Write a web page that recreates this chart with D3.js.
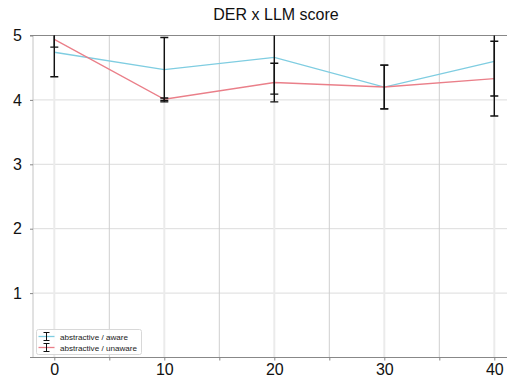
<!DOCTYPE html>
<html><head><meta charset="utf-8">
<script src="https://cdn.jsdelivr.net/npm/d3@7"></script>
<style>body{margin:0;background:#fff}svg{display:block}</style>
</head><body>
<svg id="c" width="507" height="379"></svg>
<script>
const steps = [0, 10, 20, 30, 40];
const awareMean = [4.74, 4.47, 4.66, 4.20, 4.60];
const awareErr  = [0.38, 0.50, 0.57, 0.34, 0.54];
const unawareMean = [4.94, 4.01, 4.27, 4.20, 4.33];
const unawareErr  = [0.12, 0.02, 0.30, 0.34, 0.58];
const seriesNames = ["abstractive / aware", "abstractive / unaware"];
const seriesColors = ["#7fcde1", "#ea7f89"];
const yTicks = [1, 2, 3, 4, 5];
const xTicks = [0, 10, 20, 30, 40];
const xMinor = [5, 15, 25, 35];

const svg = d3.select("#c");
const font = "'Liberation Sans', Arial, Helvetica, sans-serif";
const L = 33, T = 35.5, B = 357.5, R = 507;
const x = d3.scaleLinear().domain([0, 40]).range([54.3, 494.3]);
const y = d3.scaleLinear().domain([0, 5]).range([B, T]);

svg.append("defs").append("clipPath").attr("id", "clip")
  .append("rect").attr("x", L).attr("y", T).attr("width", R - L).attr("height", B - T);

// title
svg.append("text").attr("x", 276).attr("y", 20).attr("text-anchor", "middle")
  .attr("font-family", font).attr("font-size", 16).attr("fill", "#111").text("DER x LLM score");

const grid = svg.append("g");
grid.selectAll(".hg").data([1, 2, 3, 4]).join("line")
  .attr("x1", L).attr("x2", R).attr("y1", d => y(d)).attr("y2", d => y(d))
  .attr("stroke", "#dcdcdc").attr("stroke-width", 1);
grid.selectAll(".vg").data(xTicks).join("line")
  .attr("x1", d => x(d)).attr("x2", d => x(d)).attr("y1", T).attr("y2", B)
  .attr("stroke", "#ebebeb").attr("stroke-width", 2);
grid.selectAll(".vm").data(xMinor).join("line")
  .attr("x1", d => x(d)).attr("x2", d => x(d)).attr("y1", T).attr("y2", B)
  .attr("stroke", "#cfcfcf").attr("stroke-width", 1);

// spines
svg.append("line").attr("x1", L).attr("x2", L).attr("y1", T).attr("y2", B).attr("stroke", "#c4c4c4");
svg.append("line").attr("x1", L - 3).attr("x2", R).attr("y1", T).attr("y2", T).attr("stroke", "#888").attr("stroke-width", 1.2);
svg.append("line").attr("x1", L - 3).attr("x2", R).attr("y1", B).attr("y2", B).attr("stroke", "#888").attr("stroke-width", 1.2);

// y axis
const yAxis = d3.axisLeft(y).tickValues(yTicks).tickSize(3).tickPadding(8).tickFormat(d3.format("d"));
const gy = svg.append("g").attr("transform", `translate(${L},0)`).call(yAxis);
gy.select(".domain").remove();
gy.selectAll(".tick line").attr("stroke", "#888");
gy.selectAll("text").attr("font-family", font).attr("font-size", 16).attr("fill", "#111");

// x axis
const xAxis = d3.axisBottom(x).tickValues(xTicks.concat(xMinor)).tickSize(3).tickPadding(3)
  .tickFormat(d => xTicks.includes(d) ? d : "");
const gx = svg.append("g").attr("transform", `translate(0,${B})`).call(xAxis);
gx.select(".domain").remove();
gx.selectAll(".tick line").attr("stroke", "#888");
gx.selectAll("text").attr("font-family", font).attr("font-size", 16).attr("fill", "#111");

// data
const series = [
  { name: seriesNames[0], color: seriesColors[0], mean: awareMean, err: awareErr },
  { name: seriesNames[1], color: seriesColors[1], mean: unawareMean, err: unawareErr }
];
const plot = svg.append("g").attr("clip-path", "url(#clip)");
const line = d3.line().x(d => x(d[0])).y(d => y(d[1]));
series.forEach(s => {
  plot.append("path").datum(steps.map((st, i) => [st, s.mean[i]]))
    .attr("d", line).attr("fill", "none").attr("stroke", s.color).attr("stroke-width", 1.3);
});
series.forEach(s => {
  const g = plot.append("g");
  steps.forEach((st, i) => {
    const lo = s.mean[i] - s.err[i], hi = s.mean[i] + s.err[i];
    const cx = x(st);
    g.append("line").attr("x1", cx).attr("x2", cx).attr("y1", y(lo)).attr("y2", y(hi))
      .attr("stroke", "#111").attr("stroke-width", 1.4);
    [lo, hi].forEach(v => {
      g.append("line").attr("x1", cx - 4).attr("x2", cx + 4).attr("y1", y(v)).attr("y2", y(v))
        .attr("stroke", "#111").attr("stroke-width", 1.4);
    });
  });
});

// legend
const lg = svg.append("g");
lg.append("rect").attr("x", 36.5).attr("y", 329.5).attr("width", 105).attr("height", 25).attr("rx", 2)
  .attr("fill", "#fff").attr("fill-opacity", 0.85).attr("stroke", "#d8d8d8");
series.forEach((s, i) => {
  const cy = 336.5 + i * 11;
  lg.append("line").attr("x1", 38.5).attr("x2", 54.5).attr("y1", cy).attr("y2", cy)
    .attr("stroke", s.color).attr("stroke-width", 1.3);
  lg.append("line").attr("x1", 46.5).attr("x2", 46.5).attr("y1", cy - 4).attr("y2", cy + 4)
    .attr("stroke", "#111").attr("stroke-width", 1);
  [cy - 4, cy + 4].forEach(v => lg.append("line").attr("x1", 43.5).attr("x2", 49.5)
    .attr("y1", v).attr("y2", v).attr("stroke", "#111").attr("stroke-width", 1));
  lg.append("text").attr("x", 60).attr("y", cy + 3).attr("font-family", font)
    .attr("font-size", 8.1).attr("fill", "#222").text(s.name);
});
</script>
</body></html>
